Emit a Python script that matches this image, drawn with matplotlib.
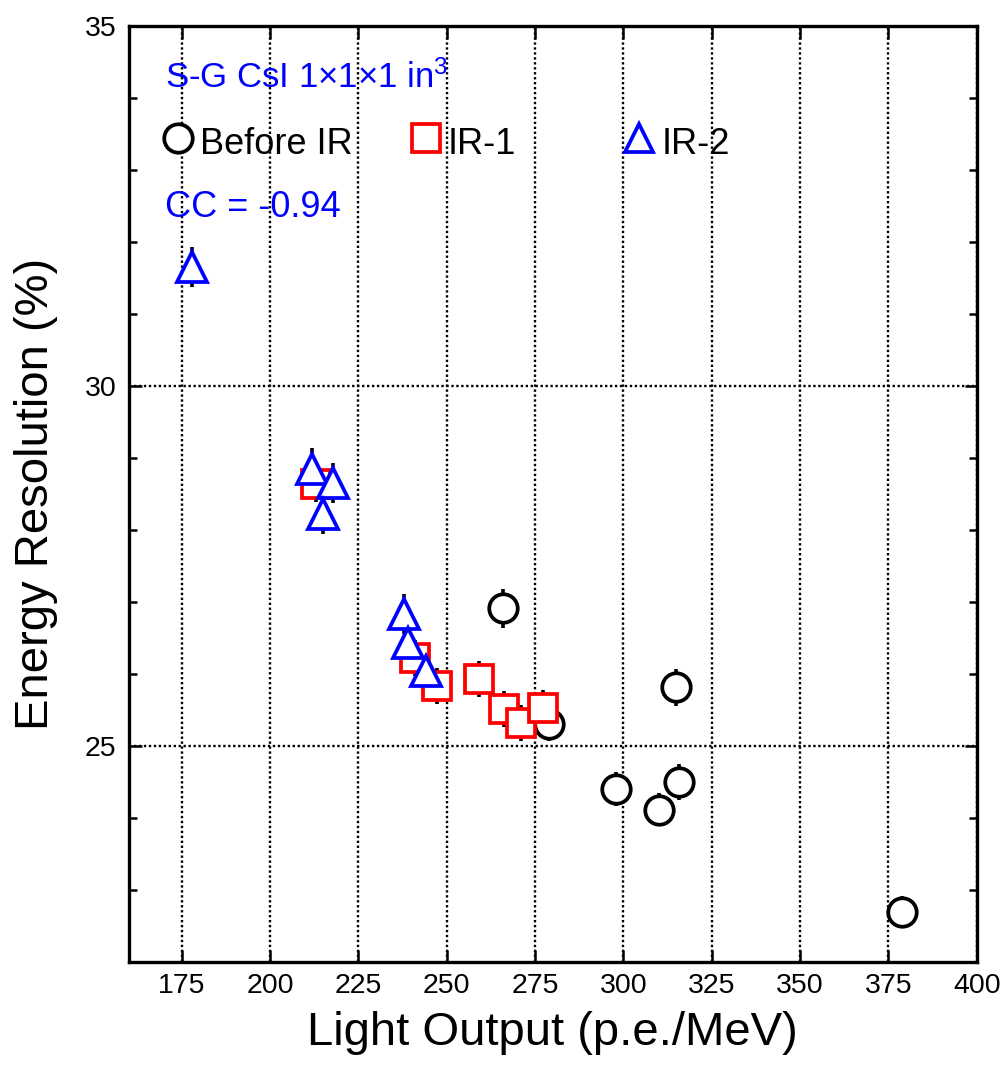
import matplotlib
matplotlib.use("Agg")
import matplotlib.pyplot as plt
from matplotlib.ticker import MultipleLocator, FixedLocator

plt.rcParams['font.family'] = ['Liberation Sans', 'DejaVu Sans']
plt.rcParams['mathtext.fontset'] = 'custom'
plt.rcParams['mathtext.rm'] = 'Liberation Sans'
plt.rcParams['mathtext.it'] = 'Liberation Sans'

# ---- data ----
before_x = [265.8, 278.8, 314.9, 298.0, 310.0, 315.8, 378.8]
before_y = [26.91, 25.30, 25.81, 24.40, 24.11, 24.50, 22.69]
before_err = [0.27, 0.24, 0.26, 0.24, 0.23, 0.25, 0.22]

ir1_x = [212.9, 241.1, 247.1, 259.1, 266.2, 271.0, 277.1]
ir1_y = [28.64, 26.22, 25.83, 25.92, 25.51, 25.32, 25.52]
ir1_err = [0.25, 0.25, 0.25, 0.25, 0.25, 0.25, 0.25]

ir2_x = [177.8, 211.9, 217.9, 215.0, 238.0, 238.9, 244.1]
ir2_y = [31.65, 28.85, 28.65, 28.22, 26.83, 26.43, 26.04]
ir2_err = [0.28, 0.28, 0.28, 0.28, 0.28, 0.28, 0.28]

x_ticks = [175, 200, 225, 250, 275, 300, 325, 350, 375, 400]
y_ticks = [25, 30, 35]

BLUE = '#0000FF'
RED = '#FF0000'

fig = plt.figure(figsize=(10.06, 10.66), dpi=100)
ax = fig.add_axes([0.128, 0.0978, 0.843, 0.8781])

ax.set_xlim(160, 400)
ax.set_ylim(22, 35)
ax.xaxis.set_major_locator(FixedLocator(x_ticks))
ax.yaxis.set_major_locator(FixedLocator(y_ticks))
ax.yaxis.set_minor_locator(MultipleLocator(1))

ax.grid(True, which='major', color='black', linestyle=(0, (1, 1.1)), linewidth=1.7)
ax.set_axisbelow(True)

ax.tick_params(which='both', direction='in', top=True, right=True, width=1.8)
ax.tick_params(which='major', length=9)
ax.tick_params(which='minor', length=6)
ax.tick_params(axis='x', which='major', labelsize=20.5, pad=8)
ax.tick_params(axis='y', which='major', labelsize=20.5, pad=9)
for s in ax.spines.values():
    s.set_linewidth(2.4)

ms = 20.5
mew = 2.7
ebkw = dict(fmt='none', ecolor='black', elinewidth=2.6, capsize=0, zorder=2)

ax.errorbar(before_x, before_y, yerr=before_err, **ebkw)
ax.plot(before_x, before_y, 'o', ms=ms, mfc='white', mec='black', mew=mew, zorder=3)
ax.errorbar(ir1_x, ir1_y, yerr=ir1_err, **ebkw)
ax.plot(ir1_x, ir1_y, 's', ms=ms, mfc='white', mec=RED, mew=mew, zorder=4)
ax.errorbar(ir2_x, ir2_y, yerr=ir2_err, **ebkw)
ax.plot(ir2_x, ir2_y, '^', ms=ms + 1, mfc='white', mec=BLUE, mew=mew, zorder=5)

ax.set_xlabel('Light Output (p.e./MeV)', fontsize=34, labelpad=9)
ax.set_ylabel('Energy Resolution (%)', fontsize=34, labelpad=19)

# annotations
ax.text(0.0428, 0.934, 'S-G CsI 1\u00d71\u00d71 in$^{3}$', transform=ax.transAxes,
        fontsize=25, color=BLUE, ha='left', va='baseline')
ax.text(0.0428, 0.796, 'CC = -0.94', transform=ax.transAxes,
        fontsize=26, color=BLUE, ha='left', va='baseline')

# legend row
leg = [('o', 'black', 'Before IR', 0.0581, 0.084),
       ('s', RED, 'IR-1', 0.3499, 0.3764),
       ('^', BLUE, 'IR-2', 0.6016, 0.6287)]
for m, c, lab, mx, tx in leg:
    ax.plot([mx], [0.8795], m, ms=ms, mfc='white', mec=c, mew=mew,
            transform=ax.transAxes, clip_on=False, zorder=6)
    ax.text(tx, 0.8624, lab, transform=ax.transAxes, fontsize=26,
            color='black', ha='left', va='baseline')

fig.savefig('out.png', dpi=100)
